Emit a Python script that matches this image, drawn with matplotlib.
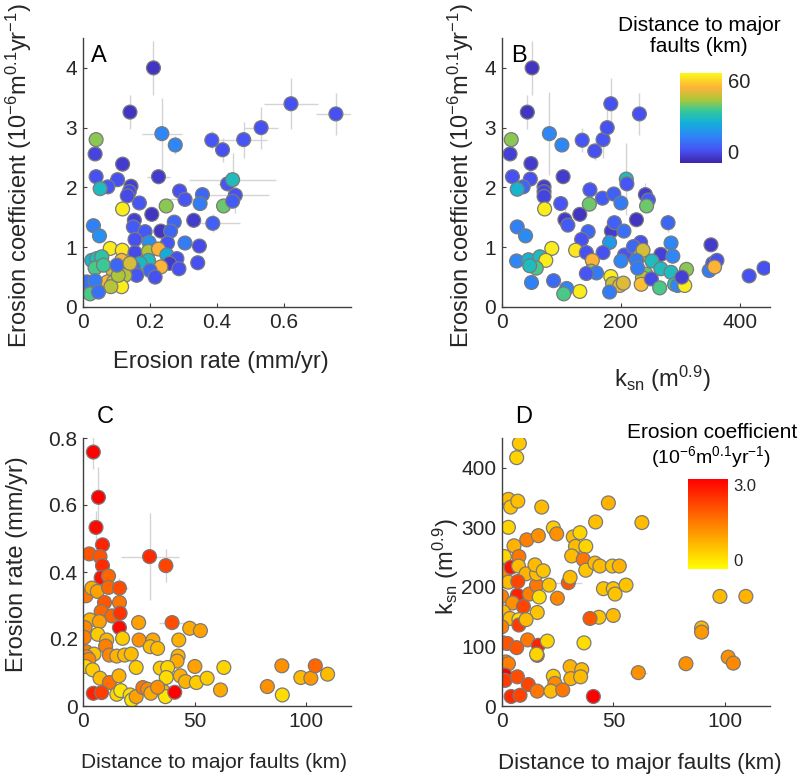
import matplotlib
matplotlib.use('Agg')
import matplotlib.pyplot as plt
from matplotlib.colors import LinearSegmentedColormap

plt.rcParams['font.family'] = ['Liberation Sans', 'DejaVu Sans']
plt.rcParams['mathtext.fontset'] = 'custom'
plt.rcParams['mathtext.rm'] = 'Liberation Sans'
plt.rcParams['mathtext.it'] = 'Liberation Sans:italic'
plt.rcParams['mathtext.default'] = 'regular'

TXT = '#262626'

# ---- panel A: erosion rate vs erosion coefficient, coloured by distance (km)
a_rate = [0.211, 0.141, 0.236, 0.276, 0.385, 0.417, 0.48, 0.532, 0.621, 0.755,
          0.04, 0.037, 0.04, 0.119, 0.104, 0.075, 0.052, 0.226, 0.144, 0.139,
          0.133, 0.119, 0.169, 0.249, 0.206, 0.289, 0.305, 0.357, 0.35, 0.42,
          0.432, 0.447, 0.455, 0.447, 0.331, 0.388, 0.154, 0.151, 0.233, 0.186,
          0.273, 0.262, 0.156, 0.198, 0.253, 0.305, 0.348, 0.032, 0.05, 0.082,
          0.118, 0.156, 0.196, 0.226, 0.251, 0.116, 0.027, 0.042, 0.057, 0.037,
          0.281, 0.259, 0.233, 0.287, 0.343, 0.196, 0.171, 0.151, 0.201, 0.216,
          0.161, 0.126, 0.09, 0.074, 0.092, 0.116, 0.084, 0.012, 0.037, 0.022,
          0.047, 0.106, 0.062, 0.102, 0.141]
a_coef = [4.0, 3.26, 2.9, 2.71, 2.79, 2.63, 2.8, 3.0, 3.4, 3.23,
          2.8, 2.56, 2.18, 2.39, 2.13, 2.01, 1.98, 2.18, 2.02, 1.93,
          1.86, 1.64, 1.74, 1.69, 1.55, 1.94, 1.8, 1.88, 1.73, 1.69,
          2.06, 2.13, 1.87, 1.77, 1.45, 1.4, 1.45, 1.34, 1.27, 1.26,
          1.42, 1.27, 1.13, 1.08, 1.07, 1.07, 1.02, 1.36, 1.19, 0.98,
          0.95, 0.91, 0.93, 0.97, 0.87, 0.78, 0.78, 0.81, 0.84, 0.65,
          0.81, 0.73, 0.67, 0.64, 0.74, 0.78, 0.73, 0.66, 0.61, 0.5,
          0.53, 0.53, 0.61, 0.42, 0.42, 0.34, 0.34, 0.42, 0.44, 0.22,
          0.25, 0.53, 0.70, 0.70, 0.73]
a_dist = [3, 3, 18, 18, 9, 8, 9, 8, 8, 8,
          40, 6, 8, 4, 8, 9, 30, 4, 5, 7,
          7, 58, 9, 40, 3, 8, 9, 12, 16, 38,
          9, 30, 8, 10, 4, 11, 5, 10, 3, 10,
          12, 12, 8, 20, 9, 16, 7, 17, 20, 58,
          57, 7, 42, 50, 26, 50, 28, 30, 33, 36,
          8, 4, 50, 8, 8, 30, 29, 12, 12, 8,
          9, 43, 44, 51, 45, 58, 43, 14, 16, 36,
          14, 42, 35, 12, 46]
a_err_idx = [0, 1, 2, 3, 4, 5, 6, 7, 8, 9, 17, 30, 31, 32, 35, 26]
a_err_dx = [0.01, 0.01, 0.06, 0.01, 0.02, 0.02, 0.07, 0.05, 0.08, 0.06, 0.035, 0.03, 0.13, 0.1, 0.08, 0.05]
a_err_dy = [0.45, 0.28, 0.6, 0.15, 0.15, 0.2, 0.3, 0.35, 0.43, 0.35, 0.12, 0.2, 0.45, 0.3, 0.15, 0.1]

# ---- panel B: ksn vs erosion coefficient, coloured by distance (km)
b_ksn = [51, 43, 16, 14, 49, 18, 48, 36, 26, 71,
         71, 71, 72, 80, 101, 103, 99, 106, 111, 135,
         156, 170, 177, 183, 231, 148, 147, 169, 188, 200,
         209, 210, 241, 246, 243, 226, 279, 131, 145, 184,
         189, 205, 134, 181, 233, 284, 351, 26, 40, 84,
         124, 142, 170, 206, 221, 231, 237, 267, 287, 25,
         45, 64, 74, 58, 47, 152, 150, 159, 142, 200,
         226, 252, 242, 236, 228, 267, 284, 290, 295, 310,
         307, 302, 348, 354, 361, 357, 415, 440, 183, 186,
         198, 204, 181, 131, 109, 104, 50, 87, 234, 251,
         265]
b_coef = [4.0, 3.26, 2.8, 2.56, 2.4, 2.18, 2.14, 2.01, 1.97, 2.01,
          1.93, 1.85, 1.64, 2.9, 2.71, 2.18, 1.73, 1.46, 1.37, 2.79,
          2.61, 2.8, 3.0, 3.4, 3.23, 1.96, 1.72, 1.82, 1.89, 1.74,
          2.14, 2.06, 1.88, 1.79, 1.69, 1.46, 1.41, 1.55, 1.26, 1.27,
          1.41, 1.27, 1.13, 1.08, 1.08, 1.07, 1.04, 1.34, 1.19, 0.98,
          0.95, 0.91, 0.91, 0.87, 1.01, 0.85, 0.95, 0.88, 0.85, 0.77,
          0.79, 0.84, 0.78, 0.65, 0.69, 0.78, 0.60, 0.57, 0.56, 0.77,
          0.78, 0.77, 0.55, 0.49, 0.65, 0.64, 0.58, 0.38, 0.36, 0.63,
          0.36, 0.50, 0.61, 0.73, 0.78, 0.67, 0.52, 0.65, 0.51, 0.39,
          0.36, 0.40, 0.25, 0.26, 0.31, 0.22, 0.41, 0.44, 0.38, 0.47,
          0.32]
b_dist = [3, 3, 40, 5, 4, 8, 8, 12, 28, 4,
          6, 6, 58, 18, 18, 4, 9, 4, 10, 9,
          8, 9, 8, 8, 8, 9, 38, 10, 11, 16,
          30, 9, 4, 10, 38, 3, 12, 3, 12, 4,
          11, 14, 8, 22, 8, 18, 4, 17, 19, 58,
          57, 8, 8, 9, 12, 42, 46, 5, 18, 18,
          28, 30, 58, 36, 30, 50, 40, 16, 9, 18,
          16, 30, 38, 44, 16, 30, 30, 32, 18, 40,
          58, 5, 16, 9, 8, 50, 8, 8, 58, 45,
          48, 47, 16, 58, 18, 36, 17, 13, 52, 7,
          36]
b_err_idx = [0, 1, 13, 19, 20, 21, 22, 23, 24, 30, 36, 17, 25, 32]
b_err_dy = [0.45, 0.28, 0.7, 0.2, 0.15, 0.3, 0.3, 0.43, 0.35, 0.6, 0.15, 0.2, 0.15, 0.2]

# ---- panel C: distance vs erosion rate, coloured by erosion coefficient
c_dist = [4.5, 6.8, 5.7, 8.6, 2.7, 7.5, 8.6, 8.0, 11.3, 29.7,
          37, 1.2, 3.8, 6.3, 11.3, 16.2, 16.2, 9.5, 8.0, 12.8,
          16.5, 16.2, 3.0, 7.2, 0.75, 0.45, 6.5, 10.5, 10, 1.2,
          4.8, 1.5, 2.5, 11.7, 15, 18.5, 21.5, 17.6, 24.8, 25,
          31.2, 30, 33.3, 39.8, 47.7, 52.5, 42.8, 42.5, 42, 1.05,
          4.2, 7.5, 11.7, 16, 23.7, 34.5, 37.8, 37.2, 43.5, 45.8,
          50, 50.7, 55.5, 63, 61.5, 4.5, 8.2, 15, 16.8, 21,
          21.7, 23.7, 26.7, 28.8, 30.3, 36, 36.8, 41, 33.3, 82.5,
          89.2, 89, 97.5, 102, 104, 109.5]
c_rate = [0.758, 0.623, 0.533, 0.481, 0.454, 0.446, 0.419, 0.383, 0.388, 0.446,
          0.419, 0.329, 0.352, 0.342, 0.354, 0.352, 0.309, 0.309, 0.282, 0.269,
          0.277, 0.234, 0.257, 0.252, 0.234, 0.205, 0.214, 0.197, 0.179, 0.162,
          0.155, 0.147, 0.139, 0.152, 0.149, 0.152, 0.155, 0.202, 0.249, 0.197,
          0.197, 0.177, 0.172, 0.249, 0.232, 0.225, 0.197, 0.149, 0.134, 0.118,
          0.108, 0.083, 0.070, 0.090, 0.115, 0.113, 0.115, 0.085, 0.090, 0.073,
          0.118, 0.070, 0.083, 0.115, 0.048, 0.038, 0.040, 0.035, 0.046, 0.033,
          0.018, 0.028, 0.055, 0.050, 0.038, 0.043, 0.028, 0.041, 0.056, 0.058,
          0.033, 0.120, 0.085, 0.083, 0.120, 0.095]
c_coef = [3.3, 3.0, 2.9, 2.6, 2.0, 2.0, 2.5, 2.8, 1.8, 2.5,
          2.2, 1.6, 1.0, 1.1, 1.8, 2.1, 1.6, 2.0, 1.8, 1.8,
          2.4, 2.9, 0.9, 1.1, 1.4, 1.5, 0.6, 0.9, 1.5, 1.5,
          0.7, 1.3, 1.4, 1.4, 0.9, 0.8, 0.8, 0.6, 1.1, 1.3,
          1.0, 0.8, 0.8, 2.1, 1.0, 1.1, 0.9, 0.9, 1.0, 0.5,
          0.6, 0.8, 1.7, 0.9, 0.6, 0.6, 0.5, 0.4, 0.9, 0.9,
          1.1, 0.6, 0.6, 0.5, 1.0, 2.6, 2.3, 0.5, 0.3, 0.4,
          0.3, 1.1, 1.6, 1.4, 1.0, 0.9, 0.3, 3.0, 1.3, 1.3,
          0.4, 1.3, 0.8, 1.2, 1.8, 0.8]
c_err_idx = [0, 1, 2, 9, 10, 43, 15]
c_err_dx = [0, 3, 0, 13, 3, 6, 4]
c_err_dy = [0.05, 0.09, 0.05, 0.13, 0.05, 0.01, 0.03]

# ---- panel D: distance vs ksn, coloured by erosion coefficient
d_dist = [7.9, 6.7, 3.0, 4.0, 7.2, 17.9, 47.7, 3.0, 42, 62.7,
          23.1, 24.6, 32, 35, 33, 37.6, 11.2, 16.4, 5.5, 1.2,
          7.7, 1.5, 4.2, 7.5, 10.9, 3.0, 7.2, 0, 7, 4.9,
          9.7, 12.4, 15.6, 15.6, 14.9, 18.6, 16.8, 21.2, 24.9, 29.8,
          30.6, 31.3, 36.5, 37.6, 41.7, 43.9, 49.5, 52.6, 45.5, 49.9,
          50.7, 55.6, 49.9, 43.5, 39.5, 15.9, 0.7, 3.7, 7.7, 7.7,
          10.9, 0, 0.7, 2.5, 6.7, 11.6, 16.4, 15.9, 15.6, 20.4,
          36.8, 1.9, 3.0, 1.5, 1.5, 7.0, 11.9, 15.9, 4.2, 8.2,
          23.1, 23.8, 22, 27.3, 30.6, 30.9, 35.8, 35.3, 41, 61.1,
          82.4, 89.4, 89.4, 97.6, 109.2, 101.3, 103.6]
d_ksn = [441, 417, 347, 334, 344, 334, 341, 300, 309, 308,
         299, 289, 284, 291, 268, 268, 279, 286, 269, 251,
         251, 226, 233, 235, 222, 208, 209, 184, 186, 173,
         167, 188, 203, 222, 237, 227, 183, 203, 181, 207,
         216, 252, 246, 228, 240, 235, 235, 235, 197, 197,
         188, 203, 152, 149, 147, 157, 158, 147, 145, 136,
         145, 133, 106, 105, 98, 111, 102, 85, 87, 109,
         106, 74, 71, 52, 43, 49, 36, 25, 16, 18,
         50, 38, 25, 27, 66, 46, 61, 49, 16, 56,
         71, 131, 124, 184, 184, 82, 72]
d_coef = [0.65, 0.52, 0.8, 0.7, 0.75, 0.8, 0.9, 0.5, 0.75, 0.8,
          0.6, 1.3, 0.8, 0.5, 0.8, 0.5, 1.5, 1.3, 0.9, 0.5,
          1.6, 1.4, 2.8, 0.8, 0.9, 0.8, 2.2, 1.5, 2.6, 1.3,
          2.2, 1.5, 1.6, 0.8, 0.8, 0.7, 0.4, 0.7, 1.4, 2.0,
          0.8, 0.8, 1.6, 0.7, 0.8, 0.8, 0.7, 0.9, 0.7, 0.7,
          0.7, 0.7, 0.8, 0.7, 2.0, 0.7, 0.8, 0.8, 0.4, 2.3,
          0.8, 1.5, 1.8, 2.0, 2.0, 1.6, 2.6, 2.6, 0.5, 0.5,
          0.4, 1.6, 1.5, 3.0, 2.3, 2.1, 2.2, 1.6, 2.5, 2.2,
          0.6, 1.4, 0.8, 1.6, 0.9, 0.9, 0.8, 0.8, 3.0, 1.3,
          1.3, 0.8, 1.2, 0.8, 0.9, 1.3, 1.4]
d_err_idx = [39, 54, 89, 16, 85]
d_err_dx = [6, 3, 4, 4, 4]

parula = LinearSegmentedColormap.from_list('parula', [
    (0.00, (0.2422, 0.1504, 0.6603)),
    (0.14, (0.2810, 0.3228, 0.9579)),
    (0.30, (0.1786, 0.5289, 0.9682)),
    (0.45, (0.0689, 0.6948, 0.8394)),
    (0.58, (0.2161, 0.7843, 0.5923)),
    (0.70, (0.6720, 0.7793, 0.2227)),
    (0.84, (0.9970, 0.7000, 0.2199)),
    (1.00, (0.9769, 0.9839, 0.0805)),
])

fig = plt.figure(figsize=(8.04, 7.82), dpi=100)
W, H = 804.0, 782.0


def make_ax(left, top, right, bottom):
    return fig.add_axes([left / W, 1 - bottom / H, (right - left) / W, (bottom - top) / H])


def style(ax, xlim, ylim, xticks, xlabels, yticks, ylabels):
    ax.set_xlim(*xlim)
    ax.set_ylim(*ylim)
    ax.set_xticks(xticks, xlabels)
    ax.set_yticks(yticks, ylabels)
    for s in ['top', 'right']:
        ax.spines[s].set_visible(False)
    for s in ['left', 'bottom']:
        ax.spines[s].set_color('#404040')
        ax.spines[s].set_linewidth(1.0)
    ax.tick_params(direction='in', length=3, width=0.8, color='#404040',
                   labelsize=15, labelcolor=TXT, pad=4)


def errbars(ax, xs, ys, idx, dx, dy):
    ax.errorbar([xs[i] for i in idx], [ys[i] for i in idx], xerr=dx, yerr=dy,
                fmt='none', ecolor='#d4d4d4', elinewidth=1.0, capsize=0, zorder=1)


mk = dict(s=100, edgecolors='#7a7a7a', linewidths=0.9, zorder=2)
coef_label = r'Erosion coefficient (10$^{-6}$m$^{0.1}$yr$^{-1}$)'
ksn_label = r'k$_{sn}$ (m$^{0.9}$)'
LBL = 17

# A
axA = make_ax(82.7, 38, 351, 307)
errbars(axA, a_rate, a_coef, a_err_idx, a_err_dx, a_err_dy)
axA.scatter(a_rate, a_coef, c=a_dist, cmap=parula, vmin=0, vmax=60, **mk)
style(axA, (0, 0.8), (0, 4.5), [0, 0.2, 0.4, 0.6], ['0', '0.2', '0.4', '0.6'],
      [0, 1, 2, 3, 4], ['0', '1', '2', '3', '4'])
axA.set_xlabel('Erosion rate (mm/yr)', fontsize=LBL, color=TXT)
axA.xaxis.set_label_coords(0.515, -0.165)
axA.set_ylabel(coef_label, fontsize=LBL, color=TXT)
axA.yaxis.set_label_coords(-0.18, 0.49)
axA.text(0.03, 0.975, 'A', transform=axA.transAxes, fontsize=17, color='black', va='top')

# B
axB = make_ax(501.7, 38, 770, 307)
errbars(axB, b_ksn, b_coef, b_err_idx, [0] * len(b_err_idx), b_err_dy)
scB = axB.scatter(b_ksn, b_coef, c=b_dist, cmap=parula, vmin=0, vmax=60, **mk)
style(axB, (0, 450), (0, 4.5), [0, 200, 400], ['0', '200', '400'],
      [0, 1, 2, 3, 4], ['0', '1', '2', '3', '4'])
axB.set_xlabel(ksn_label, fontsize=LBL, color=TXT)
axB.xaxis.set_label_coords(0.60, -0.21)
axB.set_ylabel(coef_label, fontsize=LBL, color=TXT)
axB.yaxis.set_label_coords(-0.095, 0.49)
axB.text(0.035, 0.975, 'B', transform=axB.transAxes, fontsize=17, color='black', va='top')

# C
axC = make_ax(83.3, 438, 351, 706)
errbars(axC, c_dist, c_rate, c_err_idx, c_err_dx, c_err_dy)
axC.scatter(c_dist, c_rate, c=c_coef, cmap='autumn_r', vmin=0, vmax=3, **mk)
style(axC, (0, 120), (0, 0.8), [0, 50, 100], ['0', '50', '100'],
      [0, 0.2, 0.4, 0.6, 0.8], ['0', '0.2', '0.4', '0.6', '0.8'])
axC.set_xlabel('Distance to major faults (km)', fontsize=15, color=TXT)
axC.xaxis.set_label_coords(0.49, -0.175)
axC.set_ylabel('Erosion rate (mm/yr)', fontsize=LBL, color=TXT)
axC.yaxis.set_label_coords(-0.205, 0.53)
axC.text(105 / W, 1 - 417 / H, 'C', transform=fig.transFigure, fontsize=17,
         color='black', ha='center', va='center')

# D
axD = make_ax(501.7, 438, 770, 706)
errbars(axD, d_dist, d_ksn, d_err_idx, d_err_dx, [0] * len(d_err_idx))
scD = axD.scatter(d_dist, d_ksn, c=d_coef, cmap='autumn_r', vmin=0, vmax=3, **mk)
style(axD, (0, 120), (0, 450), [0, 50, 100], ['0', '50', '100'],
      [0, 100, 200, 300, 400], ['0', '100', '200', '300', '400'])
axD.set_xlabel('Distance to major faults (km)', fontsize=16, color=TXT)
axD.xaxis.set_label_coords(0.515, -0.175)
axD.set_ylabel(ksn_label, fontsize=LBL, color=TXT)
axD.yaxis.set_label_coords(-0.15, 0.52)
axD.text(524 / W, 1 - 417 / H, 'D', transform=fig.transFigure, fontsize=17,
         color='black', ha='center', va='center')


def colorbar(sc, left, top, right, bottom, ticks, labels, size):
    cax = make_ax(left, top, right, bottom)
    cb = fig.colorbar(sc, cax=cax)
    cb.outline.set_visible(False)
    cb.set_ticks(ticks, labels=labels)
    cax.tick_params(length=0, labelsize=size, labelcolor=TXT, pad=4)
    tl = cax.get_yticklabels()
    tl[0].set_va('bottom')
    tl[-1].set_va('top')
    return cb


colorbar(scB, 680, 72.7, 722, 162.7, [0, 60], ['0', '60'], 14.5)
fig.text(699 / W, 1 - 36 / H, 'Distance to major\nfaults (km)', ha='center', va='center',
         fontsize=15, color='black', linespacing=1.15)

colorbar(scD, 688, 479, 728, 569, [0, 3], ['0', '3.0'], 12)
fig.text(712 / W, 1 - 433 / H, 'Erosion coefficient', ha='center', va='center',
         fontsize=15, color='black')
fig.text(711 / W, 1 - 457 / H, r'(10$^{-6}$m$^{0.1}$yr$^{-1}$)', ha='center', va='center',
         fontsize=14, color='black')

fig.savefig('out.png', dpi=100)
